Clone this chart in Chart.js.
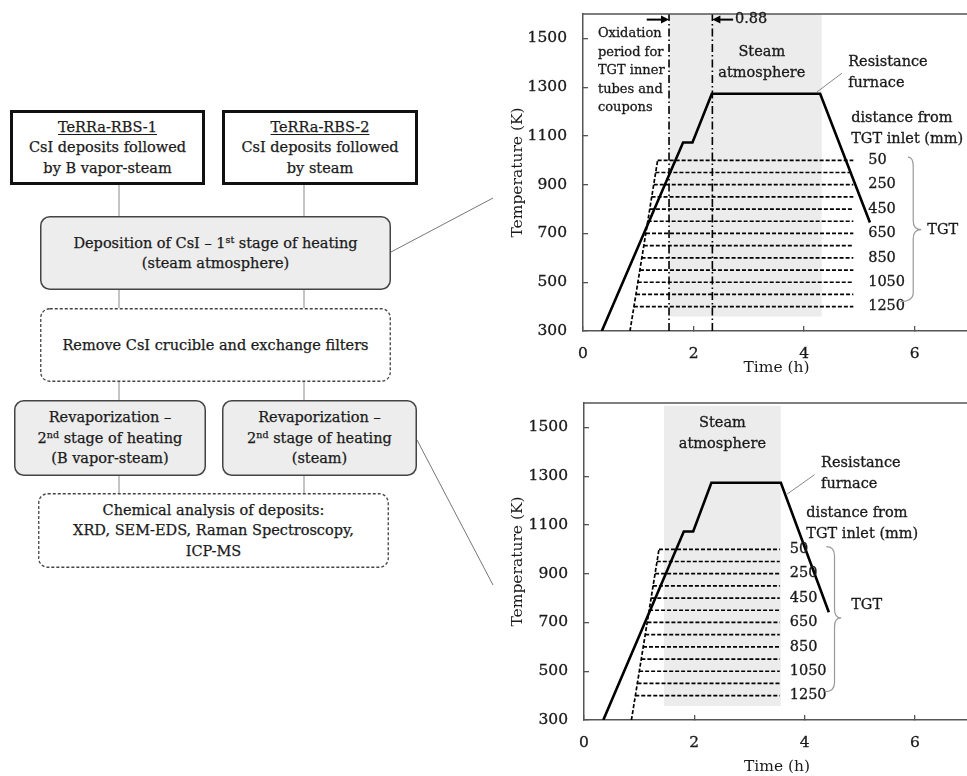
<!DOCTYPE html>
<html><head><meta charset="utf-8">
<script src="https://cdn.jsdelivr.net/npm/chart.js@4.4.1/dist/chart.umd.min.js"></script>
<style>
html,body{margin:0;padding:0;background:#fff;overflow:hidden;}
body{width:967px;height:776px;position:relative;}
#flow{position:absolute;left:0;top:0;}
.t{position:absolute;display:flex;flex-direction:column;justify-content:center;align-items:center;text-align:center;font-family:'DejaVu Serif',serif;font-size:14.5px;line-height:20.5px;color:#1a1a1a;white-space:nowrap;-webkit-text-stroke:0.25px #1a1a1a;}
.t sup{font-size:9.5px;line-height:0;vertical-align:5px;}
.u{text-decoration:underline;text-underline-offset:2px;text-decoration-thickness:1px;}
.cw{position:absolute;left:470px;width:500px;}
</style></head>
<body>
<svg id="flow" width="967" height="776">
  <g stroke="#8a8a8a" stroke-width="1" fill="none">
    <line x1="119" y1="185" x2="119" y2="216"/><line x1="304" y1="185" x2="304" y2="216"/>
    <line x1="119" y1="290" x2="119" y2="308"/><line x1="304" y1="290" x2="304" y2="308"/>
    <line x1="119" y1="382" x2="119" y2="400"/><line x1="304" y1="382" x2="304" y2="400"/>
    <line x1="119" y1="476" x2="119" y2="493"/><line x1="304" y1="476" x2="304" y2="493"/>
    <line x1="391" y1="252" x2="493" y2="198" stroke="#777"/>
    <line x1="417" y1="440" x2="493" y2="585" stroke="#777"/>
  </g>
  <rect x="11.5" y="111.5" width="192" height="72" fill="#fff" stroke="#111" stroke-width="3"/>
  <rect x="223.5" y="111.5" width="193" height="72" fill="#fff" stroke="#111" stroke-width="3"/>
  <rect x="40.75" y="216.75" width="349.5" height="72.5" rx="9" fill="#ededed" stroke="#444" stroke-width="1.5"/>
  <rect x="40.75" y="308.75" width="349.5" height="72.5" rx="9" fill="#fff" stroke="#444" stroke-width="1.3" stroke-dasharray="3,2"/>
  <rect x="14.75" y="400.75" width="190.5" height="74.5" rx="9" fill="#ededed" stroke="#444" stroke-width="1.5"/>
  <rect x="222.75" y="400.75" width="193.5" height="74.5" rx="9" fill="#ededed" stroke="#444" stroke-width="1.5"/>
  <rect x="38.75" y="493.75" width="349.5" height="73.5" rx="9" fill="#fff" stroke="#444" stroke-width="1.3" stroke-dasharray="3,2"/>
</svg>
<div class="t" style="left:10px;top:110px;width:195px;height:75px;"><span class="u">TeRRa-RBS-1</span><span>CsI deposits followed</span><span>by B vapor-steam</span></div>
<div class="t" style="left:222px;top:110px;width:196px;height:75px;"><span class="u">TeRRa-RBS-2</span><span>CsI deposits followed</span><span>by steam</span></div>
<div class="t" style="left:40px;top:216px;width:351px;height:74px;"><span>Deposition of CsI – 1<sup>st</sup> stage of heating</span><span>(steam atmosphere)</span></div>
<div class="t" style="left:40px;top:308px;width:351px;height:74px;"><span>Remove CsI crucible and exchange filters</span></div>
<div class="t" style="left:14px;top:400px;width:192px;height:76px;"><span>Revaporization –</span><span>2<sup>nd</sup> stage of heating</span><span>(B vapor-steam)</span></div>
<div class="t" style="left:222px;top:400px;width:195px;height:76px;"><span>Revaporization –</span><span>2<sup>nd</sup> stage of heating</span><span>(steam)</span></div>
<div class="t" style="left:38px;top:493px;width:351px;height:75px;"><span>Chemical analysis of deposits:</span><span>XRD, SEM-EDS, Raman Spectroscopy,</span><span>ICP-MS</span></div>

<div class="cw" style="top:0;height:380px;"><canvas id="c1"></canvas></div>
<div class="cw" style="top:380px;height:396px;"><canvas id="c2"></canvas></div>

<script>
// ---------- shared axis data ----------
const timeTicks = [0, 2, 4, 6];
const tempTicks = [300, 500, 700, 900, 1100, 1300, 1500];
const tgtTemps = [1000, 950, 900, 850, 800, 750, 700, 650, 600, 550, 500, 450, 400];
const tgtDistances = [50, 250, 450, 650, 850, 1050, 1250];
const tgtLabelTemps = [1000, 900, 800, 700, 600, 500, 400];
const tgtRiseTemp = [300, 1000];

// ---------- chart 1: 1st stage of heating ----------
const furnace1Time = [0.34, 1.81, 1.98, 2.33, 4.29, 5.19];
const furnace1Temp = [300, 1073, 1073, 1273, 1273, 745];
const tgt1Start = [1.35, 1.31, 1.28, 1.24, 1.21, 1.17, 1.14, 1.10, 1.06, 1.03, 0.99, 0.96, 0.92];
const tgt1End = [4.89];
const tgt1RiseTime = [0.85, 1.35];
const steam1Time = [1.556, 4.32];
const steam1Temp = [1600, 359];
const oxid1Time = [1.556, 2.34];

// ---------- chart 2: 2nd stage of heating ----------
const furnace2Time = [0.35, 1.81, 1.98, 2.31, 3.57, 4.44];
const furnace2Temp = [300, 1073, 1073, 1273, 1273, 742];
const tgt2Start = [1.36, 1.32, 1.29, 1.25, 1.22, 1.18, 1.15, 1.11, 1.07, 1.04, 1.00, 0.97, 0.93];
const tgt2End = [3.55];
const tgt2RiseTime = [0.86, 1.36];
const steam2Time = [1.45, 3.57];
const steam2Temp = [1589, 357];

const FONT = 'DejaVu Serif';
const INK = '#1a1a1a';
const AX = '#555';

const spec1 = {
  furnaceTime: furnace1Time, furnaceTemp: furnace1Temp,
  tgtStart: tgt1Start, tgtEnd: tgt1End[0], riseTime: tgt1RiseTime,
  steamTime: steam1Time, steamTemp: steam1Temp, oxid: oxid1Time,
  layout: {padTop: 14, yW: 113, xH: 49, xTitlePad: 3},
  notes: {
    texts: [
      {s:'Oxidation', t:0.27, T:1518, f:13}, {s:'period for', t:0.27, T:1442, f:13}, {s:'TGT inner', t:0.27, T:1367, f:13},
      {s:'tubes and', t:0.27, T:1291, f:13}, {s:'coupons', t:0.27, T:1216, f:13},
      {s:'0.88', t:2.75, T:1577},
      {s:'Steam', t:3.234, T:1442, a:'center'}, {s:'atmosphere', t:3.234, T:1357, a:'center'},
      {s:'Resistance', t:4.796, T:1401}, {s:'furnace', t:4.796, T:1316},
      {s:'distance from', t:4.851, T:1171}, {s:'TGT inlet (mm)', t:4.851, T:1086},
      {s:'TGT', t:6.226, T:715}
    ],
    distT: 5.158,
    leader: [[4.23, 1280], [4.682, 1357]],
    brace: {top:[5.877, 1013], vx:5.973, tip:[6.118, 715.5], bot:[5.738, 420.5]},
    arrows: [[[1.153, 1577], [1.556, 1577]], [[2.715, 1577], [2.34, 1577]]]
  }
};
const spec2 = {
  furnaceTime: furnace2Time, furnaceTemp: furnace2Temp,
  tgtStart: tgt2Start, tgtEnd: tgt2End[0], riseTime: tgt2RiseTime,
  steamTime: steam2Time, steamTemp: steam2Temp, oxid: [],
  layout: {padTop: 23, yW: 114, xH: 56, xTitlePad: 0},
  notes: {
    texts: [
      {s:'Steam', t:2.51, T:1518, a:'center'}, {s:'atmosphere', t:2.51, T:1429, a:'center'},
      {s:'Resistance', t:4.30, T:1354}, {s:'furnace', t:4.30, T:1265},
      {s:'distance from', t:4.03, T:1146}, {s:'TGT inlet (mm)', t:4.03, T:1060},
      {s:'TGT', t:4.845, T:772}
    ],
    distT: 3.73,
    leader: [[3.669, 1224], [4.181, 1306]],
    brace: {top:[4.393, 1011], vx:4.543, tip:[4.664, 718.7], bot:[4.362, 416]},
    arrows: []
  }
};

function txt(ctx, s, x, y) {
  ctx.fillText(s, x, y);
  ctx.strokeText(s, x, y);
}

function drawNotes(chart, n) {
  const {ctx, chartArea: a, scales: {x, y}} = chart;
  const px = v => x.getPixelForValue(v), py = v => y.getPixelForValue(v);
  ctx.save();
  ctx.strokeStyle = AX; ctx.lineWidth = 1.5;
  ctx.beginPath(); ctx.moveTo(a.left, a.top); ctx.lineTo(a.right, a.top); ctx.stroke();

  ctx.fillStyle = INK; ctx.strokeStyle = INK; ctx.lineWidth = 0.3; ctx.textBaseline = 'middle';
  n.texts.forEach(o => {
    ctx.font = (o.f || 14.5) + 'px "' + FONT + '"';
    ctx.textAlign = o.a || 'left';
    txt(ctx, o.s, px(o.t), py(o.T));
  });
  ctx.font = '14.5px "' + FONT + '"';
  ctx.textAlign = 'left';
  tgtDistances.forEach((d, i) => txt(ctx, String(d), px(n.distT), py(tgtLabelTemps[i])));

  ctx.strokeStyle = '#888'; ctx.lineWidth = 1;
  ctx.beginPath(); ctx.moveTo(px(n.leader[0][0]), py(n.leader[0][1])); ctx.lineTo(px(n.leader[1][0]), py(n.leader[1][1])); ctx.stroke();

  const b = n.brace;
  const X0 = px(b.top[0]), Y0 = py(b.top[1]), XV = px(b.vx), XT = px(b.tip[0]), YT = py(b.tip[1]), X1 = px(b.bot[0]), Y1 = py(b.bot[1]);
  const r = 9;
  ctx.strokeStyle = '#999'; ctx.lineWidth = 1.2;
  ctx.beginPath();
  ctx.moveTo(X0, Y0); ctx.quadraticCurveTo(XV, Y0, XV, Y0 + r);
  ctx.lineTo(XV, YT - r); ctx.quadraticCurveTo(XV, YT, XT, YT);
  ctx.moveTo(XT, YT); ctx.quadraticCurveTo(XV, YT, XV, YT + r);
  ctx.lineTo(XV, Y1 - r); ctx.quadraticCurveTo(XV, Y1, X1, Y1);
  ctx.stroke();

  ctx.strokeStyle = '#000'; ctx.fillStyle = '#000'; ctx.lineWidth = 2;
  n.arrows.forEach(([f, t]) => {
    const x0 = px(f[0]), y0 = py(f[1]), x1 = px(t[0]), y1 = py(t[1]);
    const dir = Math.sign(x1 - x0);
    ctx.beginPath(); ctx.moveTo(x0, y0); ctx.lineTo(x1 - dir * 6, y1); ctx.stroke();
    ctx.beginPath(); ctx.moveTo(x1, y1); ctx.lineTo(x1 - dir * 8, y1 - 4); ctx.lineTo(x1 - dir * 8, y1 + 4); ctx.closePath(); ctx.fill();
  });
  ctx.restore();
}

function pts(xs, ys) { return xs.map((v, i) => ({x: v, y: ys[i]})); }

function makeChart(id, s) {
  const ds = [];
  const dash = [4, 2];
  ds.push({data: pts(s.furnaceTime, s.furnaceTemp), borderColor: '#000', borderWidth: 2.6, order: 0});
  ds.push({data: pts(s.riseTime, tgtRiseTemp), borderColor: '#000', borderWidth: 1.7, borderDash: dash, order: 1});
  tgtTemps.forEach((T, i) => ds.push({data: [{x: s.tgtStart[i], y: T}, {x: s.tgtEnd, y: T}], borderColor: '#000', borderWidth: 1.7, borderDash: dash, order: 1}));
  s.oxid.forEach(t => ds.push({data: [{x: t, y: 300}, {x: t, y: 1600}], borderColor: '#000', borderWidth: 1.6, borderDash: [8, 3, 1.5, 3], order: 2}));
  ds.push({data: [{x: s.steamTime[0], y: s.steamTemp[0]}, {x: s.steamTime[1], y: s.steamTemp[0]}], borderWidth: 0, borderColor: 'rgba(0,0,0,0)', backgroundColor: '#ececec', fill: {value: s.steamTemp[1]}, order: 10});

  const axisFont = {family: FONT, size: 15.5};
  const grid = {drawOnChartArea: false, drawTicks: true, tickLength: -5, color: AX, tickColor: AX, lineWidth: 1.3};
  new Chart(document.getElementById(id), {
    type: 'line',
    data: {datasets: ds},
    options: {
      responsive: true, maintainAspectRatio: false, animation: false, devicePixelRatio: 1, events: [],
      layout: {padding: {left: 0, right: 0, top: s.layout.padTop, bottom: 0}},
      elements: {point: {radius: 0}, line: {tension: 0}},
      plugins: {legend: {display: false}, tooltip: {enabled: false}},
      scales: {
        x: {type: 'linear', min: 0, max: 7,
          afterBuildTicks: sc => { sc.ticks = timeTicks.map(v => ({value: v})); },
          afterFit: sc => { sc.height = s.layout.xH; sc.paddingLeft = 0; sc.paddingRight = 0; sc.paddingTop = 0; sc.paddingBottom = 0; },
          grid: grid, border: {display: true, color: AX, width: 1.5},
          ticks: {padding: 19, maxRotation: 0, color: INK, font: axisFont, textStrokeColor: INK, textStrokeWidth: 0.3, callback: v => String(v)},
          title: {display: true, text: 'Time (h)', color: INK, font: axisFont, padding: {top: 0, bottom: s.layout.xTitlePad}}
        },
        y: {type: 'linear', min: 300, max: 1600,
          afterBuildTicks: sc => { sc.ticks = tempTicks.map(v => ({value: v})); },
          afterFit: sc => { sc.width = s.layout.yW; sc.paddingTop = 0; sc.paddingBottom = 0; sc.paddingLeft = 0; sc.paddingRight = 0; },
          grid: grid, border: {display: true, color: AX, width: 1.5},
          ticks: {padding: 21, color: INK, font: axisFont, textStrokeColor: INK, textStrokeWidth: 0.3, callback: v => String(v)},
          title: {display: true, text: 'Temperature (K)', color: INK, font: axisFont, padding: {top: 39, bottom: 0}}
        }
      }
    },
    plugins: [{id: 'notes', afterDraw: c => drawNotes(c, s.notes)}]
  });
}
makeChart('c1', spec1);
makeChart('c2', spec2);
</script>
</body></html>
